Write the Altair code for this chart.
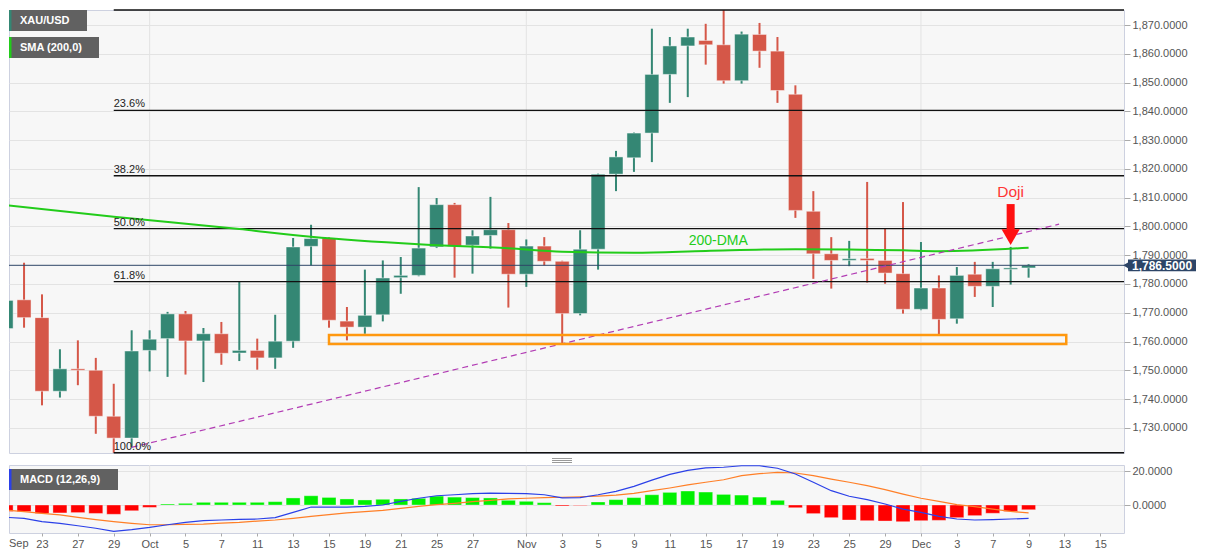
import altair as alt
import pandas as pd

# ---------------- data ----------------
dates = [
    "2021-09-21", "2021-09-22", "2021-09-23", "2021-09-24", "2021-09-27", "2021-09-28", "2021-09-29", "2021-09-30",
    "2021-10-01", "2021-10-04", "2021-10-05", "2021-10-06", "2021-10-07", "2021-10-08", "2021-10-11", "2021-10-12",
    "2021-10-13", "2021-10-14", "2021-10-15", "2021-10-18", "2021-10-19", "2021-10-20", "2021-10-21", "2021-10-22",
    "2021-10-25", "2021-10-26", "2021-10-27", "2021-10-28", "2021-10-29",
    "2021-11-01", "2021-11-02", "2021-11-03", "2021-11-04", "2021-11-05", "2021-11-08", "2021-11-09", "2021-11-10",
    "2021-11-11", "2021-11-12", "2021-11-15", "2021-11-16", "2021-11-17", "2021-11-18", "2021-11-19", "2021-11-22",
    "2021-11-23", "2021-11-24", "2021-11-25", "2021-11-26", "2021-11-29", "2021-11-30",
    "2021-12-01", "2021-12-02", "2021-12-03", "2021-12-06", "2021-12-07", "2021-12-08", "2021-12-09",
]
opens = [1764.5, 1774.5, 1768.3, 1742.7, 1750.5, 1750.0, 1734.0, 1726.4,
         1756.9, 1761.0, 1769.6, 1760.2, 1762.7, 1756.0, 1756.9, 1754.3,
         1760.1, 1793.1, 1796.0, 1767.1, 1765.0, 1769.3, 1782.2, 1783.0,
         1792.9, 1807.6, 1793.5, 1796.9, 1798.9,
         1783.4, 1793.2, 1787.9, 1769.7, 1792.1, 1818.2, 1823.9, 1832.5,
         1852.9, 1862.8, 1864.7, 1863.2, 1850.7, 1866.8, 1861.0, 1846.0,
         1805.3, 1790.5, 1788.2, 1788.9, 1788.2, 1783.6,
         1771.2, 1778.6, 1767.9, 1783.4, 1779.2, 1785.1, 1785.6]
highs = [1781.8, 1787.4, 1776.4, 1757.3, 1760.4, 1754.3, 1745.3, 1763.9,
         1763.9, 1770.3, 1770.6, 1764.7, 1766.8, 1780.9, 1761.0, 1769.3,
         1796.0, 1800.6, 1796.3, 1772.0, 1785.0, 1788.2, 1789.4, 1813.7,
         1809.9, 1808.2, 1798.7, 1810.3, 1801.2,
         1795.5, 1796.3, 1788.1, 1798.7, 1818.4, 1826.3, 1832.7, 1868.8,
         1865.9, 1868.8, 1870.5, 1877.2, 1867.8, 1870.8, 1865.9, 1849.1,
         1812.3, 1796.3, 1795.0, 1815.5, 1799.2, 1808.5,
         1794.6, 1783.0, 1785.9, 1787.7, 1787.7, 1792.9, 1786.9]
lows = [1758.1, 1764.8, 1737.8, 1740.5, 1744.8, 1727.9, 1721.3, 1723.3,
        1749.6, 1747.7, 1748.5, 1745.9, 1751.9, 1753.2, 1750.2, 1750.5,
        1757.8, 1786.5, 1764.8, 1760.4, 1762.7, 1767.0, 1776.6, 1782.7,
        1792.5, 1782.2, 1783.6, 1792.3, 1771.8,
        1779.0, 1786.5, 1759.2, 1769.1, 1785.0, 1812.3, 1819.0, 1822.4,
        1843.0, 1845.0, 1856.3, 1849.7, 1849.7, 1855.2, 1843.0, 1803.0,
        1781.8, 1778.4, 1786.2, 1780.5, 1780.1, 1769.7,
        1770.9, 1762.2, 1766.2, 1775.5, 1772.0, 1779.8, 1782.2]
closes = [1774.3, 1768.3, 1742.7, 1750.5, 1750.0, 1734.0, 1726.4, 1756.7,
          1760.8, 1769.6, 1760.2, 1762.7, 1755.9, 1756.9, 1754.3, 1760.1,
          1792.9, 1795.8, 1767.4, 1765.0, 1769.1, 1782.1, 1783.0, 1792.5,
          1807.6, 1793.1, 1796.7, 1798.9, 1783.4,
          1793.2, 1787.9, 1769.7, 1792.1, 1818.2, 1824.2, 1832.5, 1852.9,
          1862.8, 1865.9, 1863.2, 1850.7, 1866.9, 1861.0, 1847.3, 1805.6,
          1790.5, 1788.2, 1788.8, 1788.2, 1783.8, 1771.2,
          1778.6, 1767.7, 1783.0, 1779.2, 1785.3, 1785.6, 1786.5]

# 200-day SMA read at selected trading days
sma_days = [0, 6, 13, 17, 23, 28, 31, 35, 39, 44, 50, 52, 57]
sma_vals = [1807.4, 1803.4, 1799.1, 1796.4, 1793.8, 1792.4, 1791.2, 1790.9, 1791.5, 1792.1, 1791.7, 1791.4, 1792.6]

# MACD (12,26,9)
macd_hist = [-3.8, -3.9, -5.0, -4.7, -4.5, -5.0, -5.5, -3.4, -1.4, 0.6,
             1.0, 1.6, 1.6, 1.6, 1.6, 2.0, 4.2, 5.5, 4.5, 3.6,
             3.0, 3.4, 3.6, 4.0, 5.3, 4.7, 4.4, 4.2, 2.8, 2.2,
             1.4, -0.6, -0.3, 1.8, 3.2, 4.4, 6.1, 7.5, 8.3, 7.7,
             6.3, 5.9, 4.7, 2.8, -1.6, -5.1, -7.5, -8.9, -9.3, -9.5,
             -9.9, -9.3, -9.1, -7.5, -6.3, -4.9, -3.8, -2.8]
macd_line = [-7.3, -7.9, -9.9, -10.9, -12.3, -13.8, -15.6, -14.6, -13.3, -11.7,
             -10.3, -9.3, -8.9, -8.5, -8.3, -7.5, -4.4, -1.2, -1.2, -1.2,
             -0.8, 0.0, 2.2, 4.0, 5.5, 6.1, 6.7, 7.1, 6.9, 6.7,
             6.1, 4.2, 4.4, 6.1, 8.1, 11.1, 14.8, 18.2, 20.6, 22.0,
             22.4, 23.3, 23.3, 21.8, 18.4, 13.5, 8.5, 5.2, 3.2, 0.6,
             -2.4, -4.4, -6.7, -8.3, -8.9, -8.7, -8.3, -7.9]
signal_line = [-3.0, -3.9, -4.9, -5.9, -7.3, -8.7, -9.9, -10.9, -11.7, -11.7,
               -11.5, -11.3, -10.7, -10.3, -9.5, -8.9, -7.9, -6.7, -5.7, -4.7,
               -3.9, -3.2, -2.0, -0.8, 0.2, 1.0, 2.0, 2.8, 3.6, 4.0,
               4.4, 4.6, 4.9, 5.3, 5.9, 6.9, 8.5, 10.1, 11.9, 13.5,
               15.0, 17.4, 18.6, 19.4, 19.0, 17.4, 15.4, 13.5, 11.5, 9.1,
               6.5, 4.0, 2.2, 0.2, -1.0, -2.4, -3.8, -4.7]

# x-axis ticks (trading-day index) and their labels; the first month name sits at the left edge
first_month_label = "Sep"
tick_days = [2, 4, 6, 8, 10, 12, 14, 16, 18, 20, 22, 24, 26, 29, 31, 33, 35, 37, 39, 41, 43, 45, 47, 49,
             51, 53, 55, 57, 59, 61]
tick_labels = ["23", "27", "29", "Oct", "5", "7", "11", "13", "15", "19", "21", "25", "27",
               "Nov", "3", "5", "9", "11", "15", "17", "19", "23", "25", "29",
               "Dec", "3", "7", "9", "13", "15"]
month_days = [8, 29, 51]

# Fibonacci retracement of the Sep 29 low -> Nov 16 high swing
swing_low_day = 6
swing_low = 1721.3
swing_high = 1877.2
fib_ratios = [0.0, 0.236, 0.382, 0.5, 0.618, 1.0]
fib_labels = ["0.0%", "23.6%", "38.2%", "50.0%", "61.8%", "100.0%"]

# support zone, trend line, annotations
zone_days = [18.0, 59.1]
zone_prices = [1759.1, 1762.3]
trend_days = [7, 58.7]
trend_prices = [1723.2, 1800.8]
dma_label_day, dma_label_price = 39.7, 1795.1
doji_day = 56
doji_text_price = 1812.0
arrow_top, arrow_base, arrow_head = 1807.8, 1798.0, 1796.3
last_price = 1786.5

# ---------------- layout / styles ----------------
FONT = "Liberation Sans"
W, H1, H2 = 1115, 443, 68
X_DOMAIN = [0.44, 62.04]
Y_DOMAIN = [1721.22, 1875.30]
M_DOMAIN = [-16.6, 23.74]
TEAL, RED = "#348774", "#d55748"
GREEN = "#22cc1a"
NAVY = "#2d4567"
ORANGE = "#ff980f"
PURPLE = "#b23cb4"

n = len(dates)
idx = list(range(n))
df = pd.DataFrame({"i": idx, "date": dates, "open": opens, "high": highs, "low": lows, "close": closes})
df["dir"] = ["up" if c >= o else "down" for o, c in zip(opens, closes)]

xs = alt.Scale(domain=X_DOMAIN, nice=False, zero=False)
ys = alt.Scale(domain=Y_DOMAIN, nice=False, zero=False, clamp=True)
ms = alt.Scale(domain=M_DOMAIN, nice=False, zero=False)

price_axis = alt.Axis(orient="right", values=list(range(1730, 1871, 10)), format=",.4f",
                      grid=True, gridColor="#e3e3e3", domain=False, tickColor="#aaaaaa", tickSize=6,
                      labelPadding=2, labelColor="#555555", labelFontSize=11, labelFont=FONT, title=None)

def PX(f):
    return alt.X(f"{f}:Q", scale=xs, axis=None)

def PY(f):
    return alt.Y(f"{f}:Q", scale=ys, axis=price_axis)

dir_color = alt.Color("dir:N", scale=alt.Scale(domain=["up", "down"], range=[TEAL, RED]), legend=None)

months_df = pd.DataFrame({"i": month_days})

def label_box(text, stripe, x0, y0, w, h=21):
    base = alt.Chart(pd.DataFrame({"t": [text]}))
    box = base.mark_rect(color="#616161").encode(
        x=alt.value(x0), x2=alt.value(x0 + w), y=alt.value(y0), y2=alt.value(y0 + h))
    strip = base.mark_rect(color=stripe).encode(
        x=alt.value(x0), x2=alt.value(x0 + 2.5), y=alt.value(y0), y2=alt.value(y0 + h))
    txt = base.mark_text(align="left", baseline="middle", color="white", fontSize=11,
                         fontWeight="bold", font=FONT).encode(
        x=alt.value(x0 + 11), y=alt.value(y0 + h / 2 + 0.5), text="t:N")
    return [box, strip, txt]

# ---------------- price panel ----------------
p_month = alt.Chart(months_df).mark_rule(color="#e3e3e3", strokeWidth=1).encode(x=PX("i"))

wicks = alt.Chart(df).mark_rule(strokeWidth=2, clip=True).encode(
    x=PX("i"), y=PY("low"), y2="high", color=dir_color)
bodies = alt.Chart(df).mark_bar(width=14, clip=True, stroke="white", strokeOpacity=0.45, strokeWidth=1).encode(
    x=PX("i"), y=PY("open"), y2="close", color=dir_color,
    tooltip=["date:N", "open:Q", "high:Q", "low:Q", "close:Q"])

fib_df = pd.DataFrame({
    "start": [swing_low_day] * len(fib_ratios),
    "ratio": fib_ratios,
    "level": [swing_high - r * (swing_high - swing_low) for r in fib_ratios],
    "label": fib_labels,
})
fib_lines = alt.Chart(fib_df).mark_rule(color="#111111", strokeWidth=1.3).encode(
    x=PX("start"), x2=alt.value(W), y=PY("level"))
# the 0.0% caption lies above the visible canvas in the reference, so only the others are written
fib_text = alt.Chart(fib_df).transform_filter("datum.ratio > 0").mark_text(
    align="left", baseline="bottom", dy=-1, fontSize=11, color="#222222", font=FONT).encode(
    x=PX("start"), y=PY("level"), text="label:N")

cur_df = pd.DataFrame({"price": [last_price], "hi": [last_price + 2.05], "lo": [last_price - 2.05]})
cur_line = alt.Chart(cur_df).mark_rule(color=NAVY, strokeWidth=1).encode(
    x=alt.value(0), x2=alt.value(W), y=PY("price"))

sma_df = pd.DataFrame({"i": sma_days, "sma": sma_vals})
sma = alt.Chart(sma_df).mark_line(color=GREEN, strokeWidth=2, interpolate="monotone", clip=True).encode(
    x=PX("i"), y=PY("sma"))

trend_df = pd.DataFrame({"i": trend_days, "p": trend_prices})
trend = alt.Chart(trend_df).mark_line(color=PURPLE, strokeWidth=1.2, strokeDash=[6, 4], clip=True).encode(
    x=PX("i"), y=PY("p"))

zone_df = pd.DataFrame({"x0": [zone_days[0]], "x1": [zone_days[1]], "p0": [zone_prices[0]], "p1": [zone_prices[1]]})
zone = alt.Chart(zone_df).mark_rect(fill="#ffffff", fillOpacity=0, stroke=ORANGE, strokeWidth=2.5).encode(
    x=PX("x0"), x2="x1", y=PY("p0"), y2="p1")

dma_df = pd.DataFrame({"i": [dma_label_day], "p": [dma_label_price], "t": ["200-DMA"]})
dma_text = alt.Chart(dma_df).mark_text(color=GREEN, fontSize=14, font=FONT, align="center",
                                       baseline="middle").encode(x=PX("i"), y=PY("p"), text="t:N")

doji_df = pd.DataFrame({"i": [doji_day], "p": [doji_text_price], "t": ["Doji"],
                        "top": [arrow_top], "base": [arrow_base], "head": [arrow_head]})
doji_text = alt.Chart(doji_df).mark_text(color="#ff3535", fontSize=15.5, font=FONT, align="center",
                                         baseline="middle").encode(x=PX("i"), y=PY("p"), text="t:N")
arrow_shaft = alt.Chart(doji_df).mark_rule(color="#ff1111", strokeWidth=8).encode(
    x=PX("i"), y=PY("top"), y2="base")
arrow_tip = alt.Chart(doji_df).mark_point(shape="triangle-down", filled=True, size=330, color="#ff1111",
                                          opacity=1).encode(x=PX("i"), y=PY("head"))

plabel_box = alt.Chart(cur_df).mark_rect(color=NAVY).encode(
    x=alt.value(1119), x2=alt.value(1187), y=PY("hi"), y2="lo")
plabel_ptr = alt.Chart(cur_df).mark_point(shape="triangle-left", filled=True, size=45, color=NAVY,
                                          opacity=1).encode(x=alt.value(1117), y=PY("price"))
plabel_txt = alt.Chart(cur_df).mark_text(align="left", baseline="middle", dy=0.5, color="white", fontSize=12,
                                         fontWeight="bold", font=FONT).encode(
    x=alt.value(1123), y=PY("price"), text=alt.Text("price:Q", format=",.4f"))

price_layers = [p_month, wicks, bodies, fib_lines, cur_line, sma, trend, zone, fib_text,
                dma_text, doji_text, arrow_shaft, arrow_tip, plabel_box, plabel_ptr, plabel_txt]
price_layers += label_box("XAU/USD", TEAL, 0, 0, 78)
price_layers += label_box("SMA (200,0)", GREEN, 0, 27, 90)
price = alt.layer(*price_layers).properties(width=W, height=H1)

# ---------------- MACD panel ----------------
label_expr = ("[" + ",".join("'" + t + "'" for t in tick_labels) + "][indexof(["
              + ",".join(str(v) for v in tick_days) + "], datum.value)]")
x_axis = alt.Axis(values=tick_days, labelExpr=label_expr, grid=False, domain=False, tickColor="#aaaaaa",
                  tickSize=3, labelFlush=False, labelOverlap=False, labelColor="#555555", labelFontSize=11,
                  labelFont=FONT, labelPadding=2, title=None)
macd_axis = alt.Axis(orient="right", values=[0, 20], format=".4f", grid=True, gridColor="#e3e3e3",
                     domain=False, tickColor="#aaaaaa", tickSize=6, labelPadding=2, labelColor="#555555",
                     labelFontSize=11, labelFont=FONT, title=None)

def MX(f):
    return alt.X(f"{f}:Q", scale=xs, axis=x_axis)

def MY(f):
    return alt.Y(f"{f}:Q", scale=ms, axis=macd_axis)

mdf = pd.DataFrame({"i": idx, "hist": macd_hist, "macd": macd_line, "signal": signal_line})
mdf["zero"] = 0.0
mdf["sign"] = ["pos" if v >= 0 else "neg" for v in macd_hist]

m_month = alt.Chart(months_df).mark_rule(color="#e3e3e3", strokeWidth=1).encode(x=MX("i"))
hist = alt.Chart(mdf).mark_bar(width=14, clip=True, stroke="white", strokeOpacity=0.35, strokeWidth=1).encode(
    x=MX("i"), y=MY("hist"), y2="zero",
    color=alt.Color("sign:N", scale=alt.Scale(domain=["pos", "neg"], range=["#00f000", "#ff0000"]), legend=None))
mline = alt.Chart(mdf).mark_line(color="#2b40e8", strokeWidth=1.2, clip=True).encode(x=MX("i"), y=MY("macd"))
sline = alt.Chart(mdf).mark_line(color="#ff7f27", strokeWidth=1.2, clip=True).encode(x=MX("i"), y=MY("signal"))
first_lbl = alt.Chart(pd.DataFrame({"t": [first_month_label]})).mark_text(
    align="left", baseline="top", color="#555555", fontSize=11, font=FONT).encode(
    x=alt.value(0), y=alt.value(H2 + 5), text="t:N")

# small pane-resize grip between the two panels
grip_base = alt.Chart(pd.DataFrame({"g": [0]}))
grip = [grip_base.mark_rule(color="#9a9a9a", strokeWidth=1).encode(
            x=alt.value(543), x2=alt.value(563), y=alt.value(gy))
        for gy in (-6.5, -4.5, -2.5)]

macd_layers = [m_month, hist, sline, mline, first_lbl] + grip + label_box("MACD (12,26,9)", "#2b40e8", 0, 4, 109)
macd = alt.layer(*macd_layers).properties(width=W, height=H2)

chart = (alt.vconcat(price, macd, spacing=3)
         .resolve_scale(color="independent")
         .properties(padding=0, background="white")
         .configure_view(stroke="#cdd1e0", fill="#f7f7f7")
         .configure_axis(labelFont=FONT)
         .configure_text(font=FONT))

chart.save("out.html", embed_options={"renderer": "svg", "actions": False})
